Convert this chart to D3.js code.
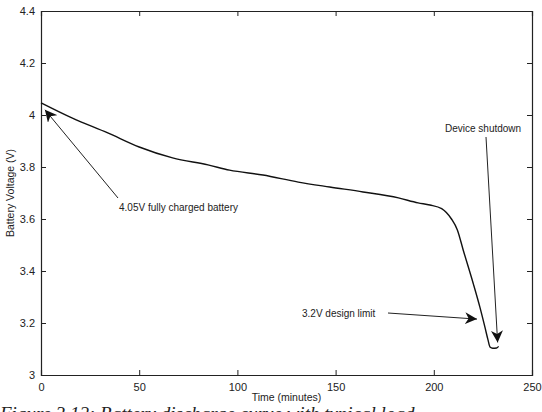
<!DOCTYPE html>
<html>
<head>
<meta charset="utf-8">
<script src="https://cdn.jsdelivr.net/npm/d3@7"></script>
<style>
  body { margin: 0; background: #fff; }
  text { font-family: "Liberation Sans", Arial, sans-serif; fill: #222; }
</style>
</head>
<body>
<div id="chart"></div>
<script>
// Data
const timeMin = [0, 16, 34, 50, 67, 85, 96, 113, 131, 147, 164, 182, 192, 198, 204, 209, 212, 215, 220, 223.5, 226, 227.6, 228.6, 230, 232, 233];
const voltage = [4.047, 3.988, 3.931, 3.877, 3.835, 3.808, 3.788, 3.769, 3.742, 3.723, 3.704, 3.681, 3.662, 3.654, 3.640, 3.600, 3.558, 3.48, 3.354, 3.26, 3.185, 3.135, 3.108, 3.103, 3.104, 3.11];
const xTicks = [0, 50, 100, 150, 200, 250];
const yTicks = [3, 3.2, 3.4, 3.6, 3.8, 4, 4.2, 4.4];

const width = 542, height = 412;
const margin = { left: 41, right: 10, top: 11, bottom: 37 };

const svg = d3.select('#chart')
    .append('svg')
    .attr('width', width)
    .attr('height', height);

const x = d3.scaleLinear().domain([0, 250]).range([margin.left, width - margin.right]);
const y = d3.scaleLinear().domain([3, 4.4]).range([height - margin.bottom, margin.top]);

// arrow marker
svg.append('defs').append('marker')
    .attr('id', 'arrow')
    .attr('viewBox', '0 0 10 10')
    .attr('refX', 10).attr('refY', 5)
    .attr('markerWidth', 12).attr('markerHeight', 12)
    .attr('markerUnits', 'userSpaceOnUse')
    .attr('orient', 'auto')
    .append('path')
    .attr('d', 'M0,0 L10,5 L0,10 L3,5 Z')
    .attr('fill', '#111');

// frame with inward ticks (both sides)
const tickLen = 5;
svg.append('g')
    .attr('transform', `translate(0,${y(3)})`)
    .call(d3.axisBottom(x).tickValues(xTicks).tickSize(-tickLen).tickPadding(8).tickFormat(d3.format('d')));
svg.append('g')
    .attr('transform', `translate(0,${y(4.4)})`)
    .call(d3.axisTop(x).tickValues(xTicks).tickSize(-tickLen).tickFormat(''));
svg.append('g')
    .attr('transform', `translate(${x(0)},0)`)
    .call(d3.axisLeft(y).tickValues(yTicks).tickSize(-tickLen).tickPadding(6).tickFormat(d => d3.format('~g')(d)));
svg.append('g')
    .attr('transform', `translate(${x(250)},0)`)
    .call(d3.axisRight(y).tickValues(yTicks).tickSize(-tickLen).tickFormat(''));

svg.selectAll('.domain').attr('stroke', '#222').attr('stroke-width', 1.2);
svg.selectAll('.tick line').attr('stroke', '#222');
svg.selectAll('.tick text').style('font-size', '11px').attr('fill', '#222');

// discharge curve
const pts = timeMin.map((t, i) => [t, voltage[i]]);
svg.append('path')
    .datum(pts)
    .attr('fill', 'none')
    .attr('stroke', '#111')
    .attr('stroke-width', 1.4)
    .attr('d', d3.line().x(d => x(d[0])).y(d => y(d[1])).curve(d3.curveMonotoneX));

// axis labels
svg.append('text')
    .attr('x', x(125)).attr('y', 401)
    .attr('text-anchor', 'middle')
    .style('font-size', '10.5px')
    .text('Time (minutes)');
svg.append('text')
    .attr('transform', `translate(14,${y(3.7)}) rotate(-90)`)
    .attr('text-anchor', 'middle')
    .style('font-size', '10.5px')
    .text('Battery Voltage (V)');

// annotations
const annot = svg.append('g').attr('stroke', '#222').attr('stroke-width', 1).attr('fill', 'none');
annot.append('line')
    .attr('x1', 118).attr('y1', 198).attr('x2', x(2)).attr('y2', y(4.02))
    .attr('marker-end', 'url(#arrow)');
annot.append('line')
    .attr('x1', 388).attr('y1', 313).attr('x2', x(222)).attr('y2', y(3.215))
    .attr('marker-end', 'url(#arrow)');
annot.append('line')
    .attr('x1', 486).attr('y1', 137).attr('x2', x(232.5)).attr('y2', y(3.125))
    .attr('marker-end', 'url(#arrow)');

svg.append('text').attr('x', 119).attr('y', 211).style('font-size', '10px').text('4.05V fully charged battery');
svg.append('text').attr('x', 302).attr('y', 317).style('font-size', '10px').text('3.2V design limit');
svg.append('text').attr('x', 445).attr('y', 132).style('font-size', '10px').text('Device shutdown');

// figure caption (cut off at the bottom edge, as in the scan)
svg.append('text')
    .attr('x', 0).attr('y', 420)
    .style('font-family', '"Liberation Serif", "Times New Roman", serif')
    .style('font-style', 'italic')
    .style('font-size', '19px')
    .text('Figure 3.12: Battery discharge curve with typical load');
</script>
</body>
</html>
